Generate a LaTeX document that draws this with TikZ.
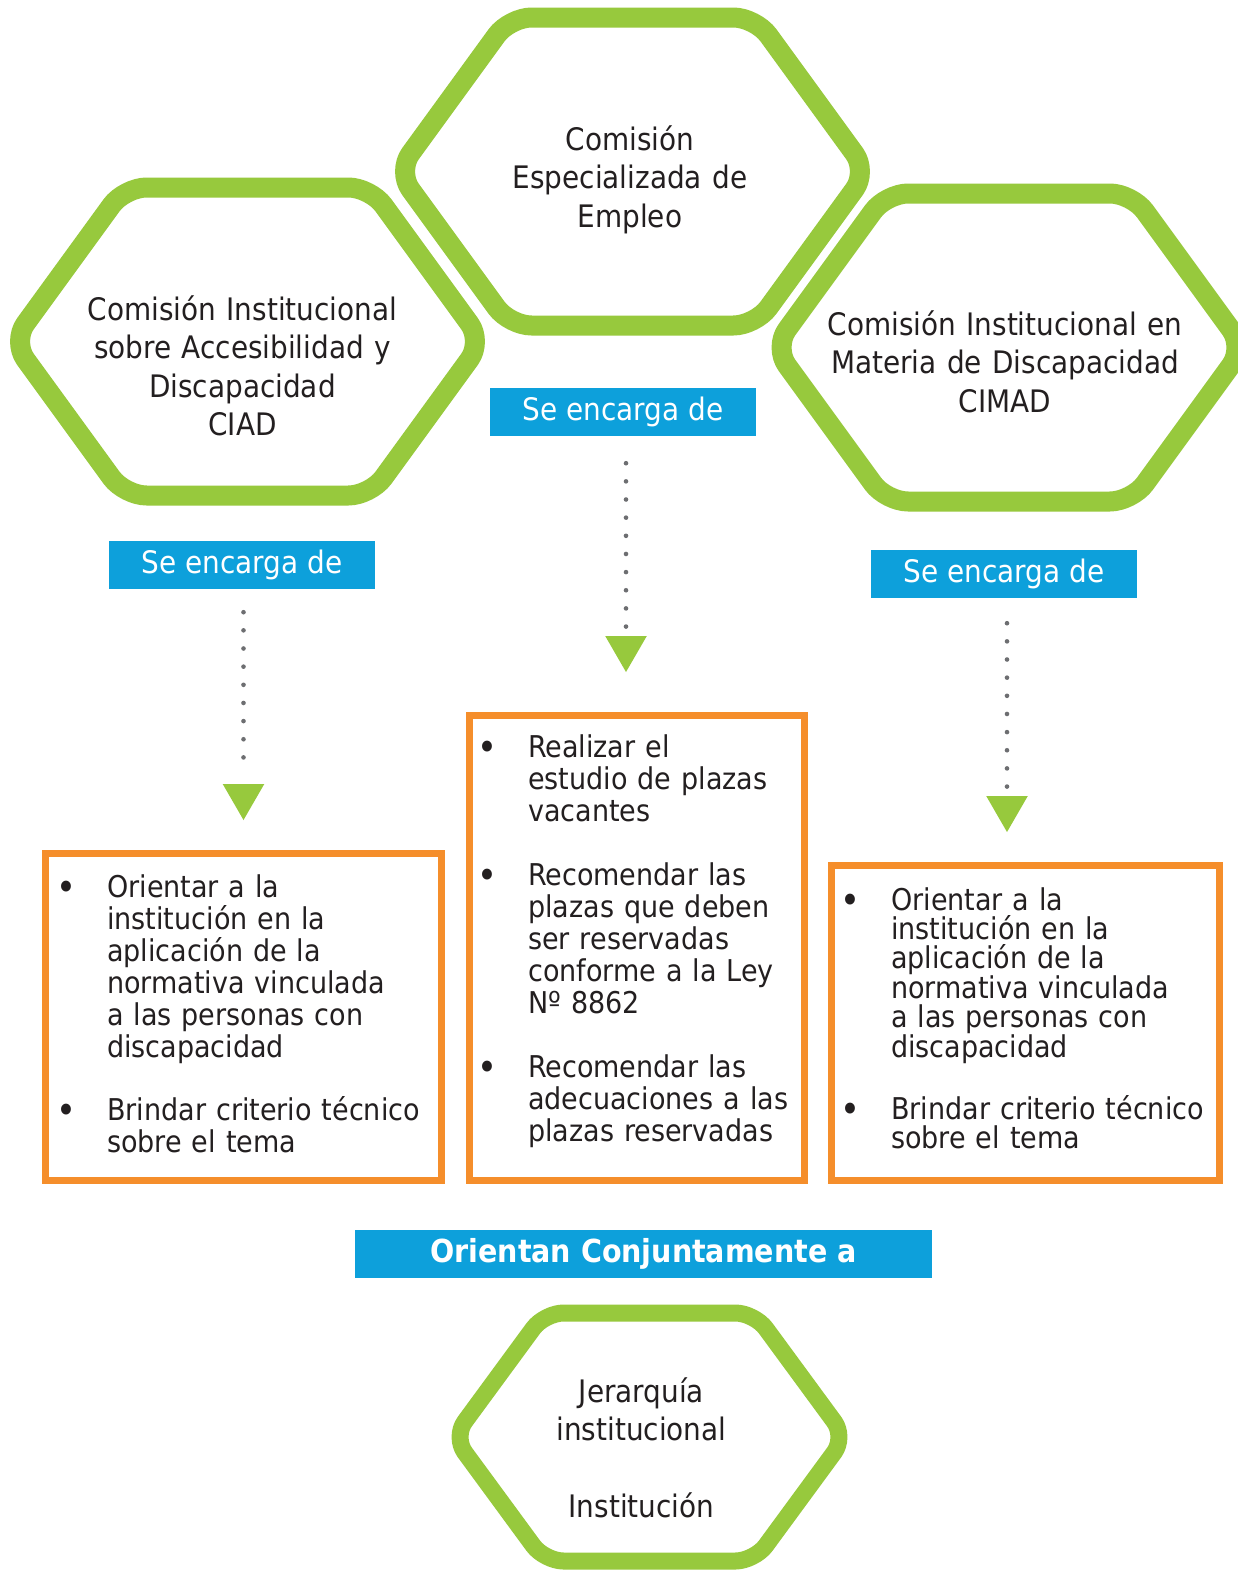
\documentclass[tikz,border=0pt]{standalone}
\usepackage{fontspec}
\setmainfont{DejaVu Sans Condensed}
\usepackage{graphicx}
\usetikzlibrary{shapes.geometric,calc}
\definecolor{hexgreen}{RGB}{151,201,61}
\definecolor{labelblue}{RGB}{13,160,219}
\definecolor{boxorange}{RGB}{245,142,43}
\definecolor{textdark}{RGB}{35,31,32}
\definecolor{dotgray}{RGB}{109,110,113}
\newcommand\itm[1]{\noindent\hangindent=51pt\hangafter=1\makebox[51pt][l]{\raisebox{-3pt}{\scalebox{1.25}{•}}}#1\par}
\tikzset{
  hexline/.style={draw=hexgreen, line width=20pt, rounded corners=22pt, line join=round},
  smallhexline/.style={draw=hexgreen, line width=17pt, rounded corners=19pt, line join=round},
  bighex/.pic={\draw[hexline] (0,-154) -- (123,-154) -- (235,0) -- (123,154) -- (-123,154) -- (-235,0) -- (-123,-154) -- cycle;},
  smallhex/.pic={\draw[smallhexline] (0,-124) -- (105,-124) -- (196,0) -- (105,124) -- (-105,124) -- (-196,0) -- (-105,-124) -- cycle;},
  hextext/.style={text=textdark, font=\fontsize{31}{38.5}\selectfont, text width=420pt, align=center, inner sep=0pt, anchor=base},
  bluebox/.style={fill=labelblue, text=white, minimum width=266pt, minimum height=48pt, inner sep=0pt, font=\fontsize{31}{36}\selectfont},
  orangebox/.style={draw=boxorange, line width=7pt, inner sep=0pt},
  listtext/.style={text=textdark, font=\fontsize{30}{32}\selectfont, text width=370pt, inner sep=0pt, anchor=base west},
  dotline/.style={draw=dotgray, line width=4.6pt, line cap=round, dash pattern=on 0pt off 18.15pt},
  arrowtri/.style={regular polygon, regular polygon sides=3, shape border rotate=180, fill=hexgreen, draw=none, inner sep=0pt, minimum size=48pt},
}
\begin{document}
\begin{tikzpicture}[x=1pt,y=-1pt]
\useasboundingbox (0,0) rectangle (1238,1572);
\fill[white] (0,0) rectangle (1238,1572);

% hexagons
\pic (hexL) at (247.5,341.5) {bighex};
\pic (hexC) at (632.5,171.5) {bighex};
\pic (hexR) at (1009,347.5) {bighex};
\pic (hexB) at (649.5,1437) {smallhex};

% hexagon texts
\node[hextext] (ciad) at (242.5,320) {Comisión Institucional\\sobre Accesibilidad y\\Discapacidad\\CIAD};
\node[hextext] (cee) at (630,150) {Comisión\\Especializada de\\Empleo};
\node[hextext] (cimad) at (1005,335) {Comisión Institucional en\\Materia de Discapacidad\\CIMAD};
\node[hextext] (jer) at (641.5,1402) {Jerarquía\\institucional\\[38.5pt]Institución};

% blue labels
\node[bluebox] (lab1) at (242,565) {Se encarga de};
\node[bluebox] (lab2) at (623,412) {Se encarga de};
\node[bluebox] (lab3) at (1004,574) {Se encarga de};
\node[bluebox, minimum width=577pt, font=\fontsize{31.7}{36}\selectfont\bfseries] (orient) at (643.5,1254) {Orientan Conjuntamente a};

% arrow heads
\node[arrowtri] (arr1) at (243.5,796) {};
\node[arrowtri] (arr2) at (626,648) {};
\node[arrowtri] (arr3) at (1007,808) {};

% dotted connectors
\draw[dotline] ($(arr1.north |- lab1.south)+(0,23)$) -- ($(arr1.north)+(0,-8.5)$);
\draw[dotline] ($(arr2.north |- lab2.south)+(0,27)$) -- ($(arr2.north)+(0,-8.5)$);
\draw[dotline] ($(arr3.north |- lab3.south)+(0,25)$) -- ($(arr3.north)+(0,-8.5)$);

% orange boxes
\node[orangebox, minimum width=396pt, minimum height=327pt] (box1) at (243,1016.5) {};
\node[orangebox, minimum width=335pt, minimum height=465pt] (box2) at (636.5,947.5) {};
\node[orangebox, minimum width=388pt, minimum height=315pt] (box3) at (1025,1022.5) {};

% list texts
\node[listtext] (list1) at (56,897) {%
\itm{Orientar a la\newline institución en la\newline aplicación de la\newline normativa vinculada\newline a las personas con\newline discapacidad}%
\vspace{31pt}%
\itm{Brindar criterio técnico\newline sobre el tema}};

\node[listtext] (list2) at (477,757) {%
\itm{Realizar el\newline estudio de plazas\newline vacantes}%
\vspace{32pt}%
\itm{Recomendar las\newline plazas que deben\newline ser reservadas\newline conforme a la Ley\newline Nº 8862}%
\vspace{32pt}%
\itm{Recomendar las\newline adecuaciones a las\newline plazas reservadas}};

\node[listtext, font=\fontsize{30}{29}\selectfont] (list3) at (840,910) {%
\itm{Orientar a la\newline institución en la\newline aplicación de la\newline normativa vinculada\newline a las personas con\newline discapacidad}%
\vspace{31pt}%
\itm{Brindar criterio técnico\newline sobre el tema}};
\end{tikzpicture}
\end{document}
